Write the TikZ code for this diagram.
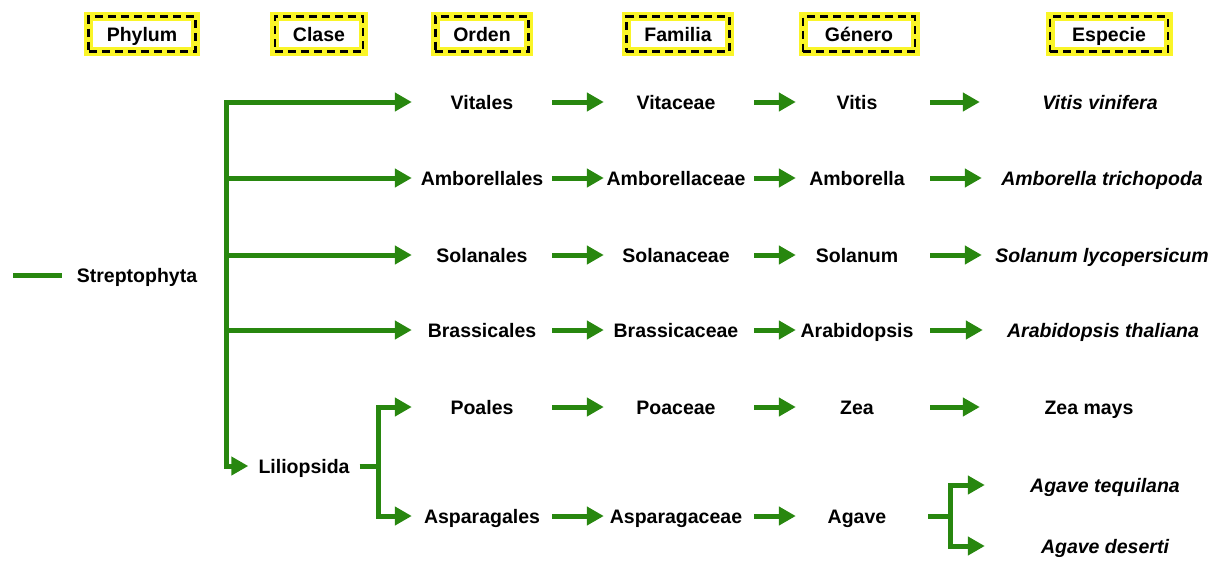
\documentclass[tikz,border=0pt]{standalone}
\usepackage{fontspec}
\setmainfont{Liberation Sans}
\usetikzlibrary{arrows.meta}
\definecolor{rama}{RGB}{40,135,15}
\definecolor{brillo}{RGB}{250,245,40}
\newcommand{\tamano}{\fontsize{19.5}{23}\selectfont}

\begin{document}
\begin{tikzpicture}[x=1pt,y=-1pt,
  rango/.style={font=\tamano\bfseries, draw=black, dash pattern=on 8pt off 5pt, line width=2.6pt,
    inner xsep=18pt, text height=14pt, text depth=0pt, minimum height=35pt,
    preaction={draw=brillo, solid, line width=9pt}},
  celda/.style={font=\tamano\bfseries, inner sep=0pt, text height=14pt, text depth=0pt},
  orden/.style={celda, minimum width=140pt},
  familia/.style={celda, minimum width=144pt},
  genero/.style={celda, minimum width=122pt},
  especie/.style={celda, minimum width=240pt, font=\tamano\bfseries\itshape},
  linea/.style={draw=rama, line width=5pt},
  flecha/.style={linea, -{Triangle[length=17pt,width=18pt]}}]
\useasboundingbox (0,0) rectangle (1222,560);

% encabezados
\node[rango] (hphy) at (142,34) {Phylum};
\node[rango] (hcla) at (319,34) {Clase};
\node[rango] (hord) at (482,34) {Orden};
\node[rango] (hfam) at (678,34) {Familia};
\node[rango, minimum width=112pt] (hgen) at (859,34) {Género};
\node[rango, minimum width=118pt] (hesp) at (1109,34) {Especie};

\node[celda] (strep) at (137,275) {Streptophyta};
\node[celda, inner xsep=10pt] (lili) at (304,466) {Liliopsida};

\node[orden] (o1) at (482,102) {Vitales};
\node[orden] (o2) at (482,178) {Amborellales};
\node[orden] (o3) at (482,255) {Solanales};
\node[orden] (o4) at (482,330) {Brassicales};
\node[orden] (o5) at (482,407) {Poales};
\node[orden] (o6) at (482,516) {Asparagales};

\node[familia] (f1) at (676,102) {Vitaceae};
\node[familia] (f2) at (676,178) {Amborellaceae};
\node[familia] (f3) at (676,255) {Solanaceae};
\node[familia] (f4) at (676,330) {Brassicaceae};
\node[familia] (f5) at (676,407) {Poaceae};
\node[familia] (f6) at (676,516) {Asparagaceae};

\node[genero] (g1) at (857,102) {Vitis};
\node[genero] (g2) at (857,178) {Amborella};
\node[genero] (g3) at (857,255) {Solanum};
\node[genero] (g4) at (857,330) {Arabidopsis};
\node[genero] (g5) at (857,407) {Zea};
\node[genero] (g6) at (857,516) {Agave};

\node[especie] (e1) at (1100,102) {Vitis vinifera};
\node[especie] (e2) at (1102,178) {Amborella trichopoda};
\node[especie] (e3) at (1102,255) {Solanum lycopersicum};
\node[especie] (e4) at (1103,330) {Arabidopsis thaliana};
\node[especie, font=\tamano\bfseries] (e5) at (1089,407) {Zea mays};
\node[especie] (e6a) at (1105,485) {Agave tequilana};
\node[especie] (e6b) at (1105,546) {Agave deserti};

% ramas
\coordinate (cl) at (226,466);
\coordinate (ls) at (378,466);
\coordinate (ag) at (950,516);
\draw[linea] ([xshift=-15pt]strep.west) -- ([xshift=-64pt]strep.west);
\draw[flecha] (cl) |- (o1.west);
\draw[flecha] (cl |- o1) |- (lili.west);
\draw[flecha] (cl |- o2) -- (o2.west);
\draw[flecha] (cl |- o3) -- (o3.west);
\draw[flecha] (cl |- o4) -- (o4.west);
\draw[linea] (lili.east) -- (ls);
\draw[flecha] (ls |- o6) |- (o5.west);
\draw[flecha] (ls |- o5) |- (o6.west);

\draw[flecha] (o1.east) -- (f1.west);
\draw[flecha] (o2.east) -- (f2.west);
\draw[flecha] (o3.east) -- (f3.west);
\draw[flecha] (o4.east) -- (f4.west);
\draw[flecha] (o5.east) -- (f5.west);
\draw[flecha] (o6.east) -- (f6.west);

\draw[flecha, shorten <=6pt] (f1.east) -- (g1.west);
\draw[flecha, shorten <=6pt] (f2.east) -- (g2.west);
\draw[flecha, shorten <=6pt] (f3.east) -- (g3.west);
\draw[flecha, shorten <=6pt] (f4.east) -- (g4.west);
\draw[flecha, shorten <=6pt] (f5.east) -- (g5.west);
\draw[flecha, shorten <=6pt] (f6.east) -- (g6.west);

\draw[flecha, shorten <=12pt] (g1.east) -- (e1.west);
\draw[flecha, shorten <=12pt] (g2.east) -- (e2.west);
\draw[flecha, shorten <=12pt] (g3.east) -- (e3.west);
\draw[flecha, shorten <=12pt] (g4.east) -- (e4.west);
\draw[flecha, shorten <=12pt, shorten >=-11pt] (g5.east) -- (e5.west);
\draw[linea, shorten <=10pt] (g6.east) -- (ag);
\draw[flecha] (ag |- e6b) |- (e6a.west);
\draw[flecha] (ag |- e6a) |- (e6b.west);
\end{tikzpicture}
\end{document}
